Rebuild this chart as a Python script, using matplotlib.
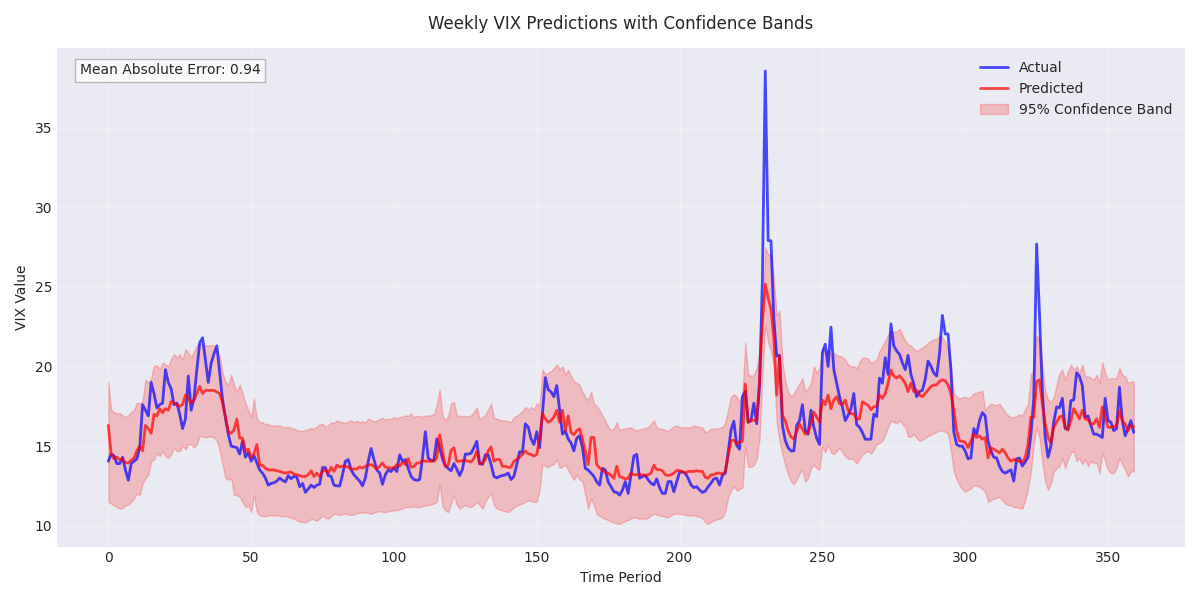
import numpy as np
import matplotlib
matplotlib.use("Agg")
import matplotlib.pyplot as plt

# --- values (one per time period, 0..359) ---
actual = [
    14.05, 14.5, 14.4, 13.9, 13.9, 14.3, 13.5, 12.85, 13.9, 14.05,
    14.2, 14.9, 17.6, 17.25, 16.9, 19.0, 18.3, 17.4, 17.6, 17.7,
    19.8, 19.0, 18.6, 17.6, 17.7, 17.0, 16.1, 16.7, 19.4, 17.25,
    18.0, 19.8, 21.5, 21.8, 20.4, 19.0, 20.2, 20.8, 21.3, 19.6,
    17.9, 16.8, 15.75, 15.0, 14.95, 14.9, 14.5, 15.3, 14.3, 14.6,
    14.05, 14.4, 13.95, 13.5, 13.3, 13.0, 12.55, 12.65, 12.7, 12.8,
    13.0, 12.85, 12.75, 13.15, 12.95, 13.1, 13.05, 12.45, 12.65, 12.1,
    12.3, 12.55, 12.4, 12.55, 12.6, 13.65, 13.65, 13.15, 13.1, 12.55,
    12.5, 12.5, 13.2, 14.05, 14.15, 13.5, 13.2, 13.0, 12.8, 12.5,
    13.0, 14.05, 14.85, 14.15, 13.5, 13.3, 12.6, 13.2, 13.5, 13.4,
    13.65, 13.4, 14.45, 14.05, 14.15, 13.6, 13.1, 12.9, 12.85, 12.9,
    14.25, 15.9, 14.25, 14.1, 14.1, 15.45, 14.9, 14.2, 13.75, 13.6,
    13.45, 13.9, 13.55, 13.15, 13.55, 14.5, 14.5, 14.55, 14.9, 15.3,
    13.9, 13.85, 14.45, 14.45, 13.85, 13.1, 13.0, 13.1, 13.15, 13.2,
    13.3, 12.9, 13.1, 13.85, 14.65, 14.6, 16.4, 16.2, 15.45, 15.1,
    15.9, 14.9, 17.05, 19.3, 18.55, 18.4, 18.1, 18.8, 17.25, 15.75,
    15.95, 15.45, 15.2, 14.7, 15.5, 15.65, 14.9, 13.6, 13.5, 13.3,
    13.1, 12.75, 12.55, 13.6, 13.5, 12.75, 12.45, 12.13, 12.09, 11.92,
    12.24, 12.77, 12.03, 13.2, 14.37, 14.48, 12.98, 13.09, 13.16, 12.88,
    12.67, 12.56, 12.94, 12.39, 12.03, 12.03, 12.77, 12.77, 12.13, 12.77,
    13.37, 13.37, 13.3, 12.98, 12.56, 12.39, 12.45, 12.24, 12.09, 12.17,
    12.45, 12.67, 12.94, 12.98, 12.56, 13.16, 13.3, 14.6, 16.0, 16.56,
    15.05, 14.8, 18.1, 18.45, 16.5, 16.6, 17.7, 16.4, 18.8, 25.5,
    38.55, 27.9, 27.9, 23.0, 20.65, 20.7, 16.3, 15.35, 14.9, 14.7,
    14.7, 16.3, 16.6, 17.6, 16.0, 15.75, 17.25, 16.2, 15.5, 15.1,
    20.87, 21.4, 20.0, 22.47, 19.8, 18.95, 18.1, 17.46, 16.6, 16.93,
    17.35, 18.3, 16.35, 16.18, 15.86, 15.43, 15.43, 15.43, 17.0, 16.85,
    19.27, 18.95, 20.55, 19.5, 22.68, 21.3, 20.98, 20.76, 20.23, 19.8,
    20.7, 19.5, 18.9, 18.1, 18.42, 18.5, 19.2, 20.34, 20.02, 19.59,
    19.4, 20.8, 23.21, 22.04, 22.04, 19.8, 15.9, 15.1, 15.0, 15.0,
    14.69, 14.2, 14.26, 16.1, 15.75, 16.6, 17.1, 16.9, 15.3, 14.7,
    14.3, 14.26, 13.73, 13.41, 13.3, 13.41, 13.5, 12.8, 14.2, 14.25,
    13.75, 14.0, 14.3, 15.7, 18.0, 27.69, 23.3, 18.5, 15.54, 14.3,
    15.0, 16.5, 17.46, 17.4, 18.0, 16.1, 16.07, 17.85, 17.9, 19.6,
    19.38, 18.8, 16.82, 16.9, 16.3, 15.75, 15.75, 15.65, 15.54, 18.0,
    16.61, 16.5, 15.97, 16.1, 18.7, 16.6, 15.65, 16.1, 16.6, 15.86,
]

predicted = [
    16.3, 14.5, 14.2, 14.3, 14.15, 14.2, 13.95, 13.95, 14.1, 14.25,
    14.7, 15.0, 14.7, 16.3, 16.1, 15.8, 17.0, 16.9, 17.35, 17.1,
    17.35, 17.25, 17.8, 17.7, 17.6, 17.5, 17.6, 18.2, 18.0, 17.7,
    17.9, 18.3, 18.75, 18.3, 18.5, 18.5, 18.5, 18.5, 18.4, 18.3,
    17.7, 16.8, 15.9, 15.8, 16.0, 16.7, 15.5, 15.5, 14.7, 14.8,
    14.3, 14.5, 15.1, 13.8, 13.8, 13.6, 13.5, 13.5, 13.5, 13.45,
    13.41, 13.35, 13.3, 13.35, 13.37, 13.24, 13.2, 13.15, 13.09, 13.09,
    13.2, 13.45, 13.09, 13.3, 13.09, 13.41, 13.52, 13.3, 13.67, 13.41,
    13.8, 13.69, 13.73, 13.73, 13.67, 13.56, 13.56, 13.56, 13.69, 13.62,
    13.73, 13.8, 13.84, 13.73, 13.56, 13.73, 13.94, 13.67, 13.65, 13.62,
    13.62, 13.84, 13.73, 14.0, 13.84, 14.22, 13.67, 13.73, 13.94, 13.94,
    14.09, 14.05, 14.05, 14.05, 14.05, 14.26, 15.71, 14.69, 13.73, 13.8,
    14.73, 14.9, 14.05, 14.05, 14.09, 14.09, 14.05, 14.0, 14.22, 14.69,
    13.88, 13.94, 14.16, 14.69, 14.95, 14.05, 14.16, 14.16, 13.73, 13.73,
    13.67, 13.67, 14.05, 14.16, 14.3, 14.48, 14.69, 14.52, 14.48, 14.37,
    14.48, 15.54, 17.04, 16.72, 16.5, 16.61, 16.82, 17.25, 16.5, 17.25,
    15.97, 16.9, 15.86, 15.71, 15.97, 16.08, 15.44, 14.69, 13.84, 15.54,
    15.54, 13.84, 13.62, 13.5, 13.35, 13.3, 13.16, 12.98, 13.73, 13.09,
    13.03, 12.94, 12.98, 13.3, 13.2, 13.2, 13.2, 13.2, 13.16, 13.2,
    13.3, 13.8, 13.52, 13.52, 13.45, 13.2, 13.16, 13.2, 13.3, 13.48,
    13.45, 13.41, 13.3, 13.41, 13.41, 13.41, 13.45, 13.41, 13.41, 13.03,
    12.98, 13.2, 13.2, 13.3, 13.3, 13.24, 13.4, 14.37, 15.33, 15.37,
    15.12, 15.29, 15.3, 18.9, 16.5, 16.65, 16.61, 16.6, 19.2, 22.8,
    25.17, 24.3, 23.6, 21.8, 18.2, 20.66, 16.95, 16.6, 15.97, 15.58,
    15.43, 15.9, 16.39, 16.07, 15.75, 15.86, 16.39, 17.14, 16.82, 16.5,
    17.89, 17.6, 18.2, 17.35, 17.89, 18.1, 17.67, 17.6, 17.89, 17.25,
    17.03, 17.03, 16.71, 16.71, 17.78, 17.67, 17.57, 17.29, 17.46, 17.5,
    18.21, 17.99, 18.31, 18.95, 19.76, 19.4, 19.27, 19.42, 19.2, 18.95,
    18.42, 18.95, 18.42, 18.5, 18.21, 18.1, 18.31, 18.53, 18.74, 18.84,
    18.84, 19.06, 19.16, 19.1, 18.84, 18.31, 17.25, 15.97, 15.33, 15.3,
    15.22, 14.9, 15.33, 15.75, 15.54, 15.65, 15.43, 15.54, 14.26, 14.9,
    14.8, 14.69, 14.58, 14.8, 14.58, 14.26, 14.05, 14.16, 14.1, 14.05,
    14.0, 14.26, 15.12, 16.82, 16.82, 19.06, 19.16, 17.67, 16.39, 15.54,
    15.2, 16.18, 16.5, 16.82, 16.9, 16.18, 16.01, 16.61, 17.35, 17.03,
    16.71, 17.25, 16.71, 16.65, 16.39, 16.4, 16.71, 16.18, 17.46, 16.82,
    16.18, 16.18, 16.22, 16.29, 17.25, 16.61, 16.39, 15.97, 16.29, 16.22,
]

band_upper = [
    19.06, 17.25, 17.14, 17.04, 17.08, 16.93, 16.82, 16.93, 17.14, 17.25,
    17.72, 17.68, 17.85, 19.17, 18.96, 19.27, 20.06, 20.06, 19.85, 20.23,
    20.13, 20.02, 20.49, 20.77, 20.55, 20.77, 20.45, 21.09, 20.87, 20.55,
    20.98, 21.3, 21.51, 21.3, 21.34, 21.3, 21.36, 21.3, 21.09, 20.66,
    19.59, 19.06, 18.85, 19.49, 18.85, 18.42, 18.85, 18.32, 17.68, 17.25,
    16.82, 18.0, 16.72, 16.5, 16.5, 16.35, 16.4, 16.29, 16.29, 16.29,
    16.3, 16.2, 16.18, 16.2, 16.14, 16.1, 16.0, 15.97, 15.97, 16.01,
    16.05, 16.14, 16.1, 16.23, 16.35, 16.4, 16.23, 16.3, 16.5, 16.45,
    16.61, 16.55, 16.5, 16.44, 16.55, 16.61, 16.5, 16.57, 16.5, 16.55,
    16.5, 16.72, 16.65, 16.55, 16.61, 16.7, 16.78, 16.65, 16.72, 16.7,
    16.82, 16.75, 16.82, 16.85, 16.93, 16.9, 17.04, 16.82, 16.9, 16.87,
    16.85, 16.93, 16.9, 16.95, 16.99, 17.6, 18.57, 16.9, 16.61, 16.9,
    17.68, 17.78, 16.93, 16.9, 16.87, 16.9, 16.85, 16.93, 17.14, 17.42,
    16.7, 16.82, 16.95, 17.3, 17.68, 16.8, 16.72, 16.65, 16.61, 16.6,
    16.57, 16.5, 16.82, 16.9, 17.04, 17.2, 17.46, 17.3, 17.46, 17.3,
    17.68, 17.57, 19.81, 19.5, 19.59, 19.7, 19.9, 20.13, 19.81, 20.02,
    19.49, 19.81, 19.4, 19.1, 18.96, 18.85, 18.4, 18.1, 17.89, 18.42,
    17.68, 17.5, 17.25, 16.9, 16.6, 16.2, 16.0, 16.1, 16.5, 16.0,
    16.08, 16.1, 16.15, 16.18, 16.05, 15.97, 16.05, 16.08, 16.15, 16.18,
    16.4, 16.61, 16.18, 16.1, 16.08, 16.0, 15.97, 16.1, 16.25, 16.29,
    16.2, 16.18, 16.18, 16.18, 16.2, 16.29, 16.25, 16.2, 16.18, 15.86,
    15.95, 16.08, 16.1, 16.1, 16.14, 16.2, 16.5, 17.3, 18.1, 18.25,
    18.1, 17.8, 18.3, 21.5, 19.48, 19.42, 19.45, 19.9, 21.0, 23.0,
    27.48, 27.05, 27.0, 25.56, 23.21, 23.5, 20.3, 19.1, 18.4, 18.1,
    18.31, 18.63, 18.95, 19.27, 18.42, 18.63, 18.95, 20.02, 19.59, 19.9,
    21.19, 20.76, 21.08, 20.66, 20.87, 20.7, 20.66, 20.6, 20.44, 20.12,
    20.0, 20.02, 19.9, 20.3, 20.55, 20.55, 20.5, 20.23, 20.3, 20.44,
    20.98, 21.3, 21.62, 22.0, 22.25, 22.15, 22.2, 22.36, 22.0, 21.62,
    21.4, 21.3, 21.1, 20.98, 21.08, 21.2, 21.3, 21.5, 21.62, 21.7,
    21.72, 21.94, 21.83, 21.5, 21.08, 20.02, 18.31, 18.1, 17.99, 18.05,
    18.1, 17.99, 18.1, 18.31, 18.35, 18.42, 18.48, 17.25, 17.5, 17.67,
    17.6, 17.57, 17.67, 17.4, 17.14, 16.93, 16.82, 16.82, 16.9, 16.99,
    16.93, 17.3, 17.67, 19.59, 19.59, 21.94, 21.72, 20.0, 18.5, 17.9,
    17.78, 18.1, 18.84, 19.59, 19.8, 19.16, 19.7, 20.12, 19.8, 20.02,
    19.59, 20.12, 19.38, 19.38, 19.3, 19.16, 19.48, 18.95, 20.27, 19.59,
    19.16, 19.27, 19.27, 19.27, 19.91, 19.48, 19.38, 18.95, 19.06, 19.06,
]

band_lower = [
    11.49, 11.39, 11.28, 11.17, 11.07, 11.11, 11.28, 11.32, 11.49, 11.71,
    12.03, 11.92, 12.67, 12.99, 13.2, 14.05, 14.16, 14.58, 14.37, 14.69,
    14.37, 14.26, 14.48, 14.9, 14.69, 14.69, 15.01, 14.8, 15.12, 15.12,
    14.9, 15.12, 15.65, 15.59, 15.54, 15.59, 15.59, 15.54, 15.33, 14.69,
    13.84, 12.99, 12.88, 12.99, 11.92, 11.92, 11.81, 11.49, 11.17, 11.28,
    10.85, 11.92, 10.85, 10.64, 10.6, 10.6, 10.64, 10.64, 10.64, 10.65,
    10.62, 10.58, 10.6, 10.55, 10.5, 10.43, 10.35, 10.26, 10.23, 10.21,
    10.3, 10.43, 10.38, 10.32, 10.45, 10.64, 10.5, 10.43, 10.6, 10.75,
    10.7, 10.68, 10.72, 10.75, 10.7, 10.68, 10.72, 10.78, 10.81, 10.83,
    10.85, 10.8, 10.75, 10.82, 10.88, 10.9, 10.87, 10.85, 10.9, 10.93,
    10.96, 10.98, 11.02, 11.1, 11.17, 11.17, 11.17, 11.2, 11.17, 11.17,
    11.22, 11.28, 11.3, 11.35, 11.39, 11.5, 12.6, 11.2, 10.95, 10.85,
    11.4, 11.92, 11.3, 11.07, 11.2, 11.28, 11.22, 11.17, 11.3, 11.49,
    11.3, 11.07, 11.5, 11.8, 12.03, 11.3, 11.07, 11.0, 10.96, 10.9,
    10.85, 11.0, 11.17, 11.25, 11.35, 11.39, 11.5, 11.6, 11.55, 11.49,
    11.5, 12.24, 13.88, 13.75, 13.67, 13.8, 13.88, 14.16, 13.62, 13.7,
    13.84, 13.5, 13.2, 12.88, 13.2, 12.9, 12.77, 11.92, 11.07, 11.71,
    11.3, 10.75, 10.6, 10.5, 10.43, 10.35, 10.25, 10.2, 10.15, 10.11,
    10.2, 10.3, 10.35, 10.45, 10.53, 10.5, 10.43, 10.45, 10.43, 10.5,
    10.65, 10.75, 10.7, 10.64, 10.6, 10.55, 10.53, 10.65, 10.75, 10.75,
    10.75, 10.72, 10.68, 10.64, 10.64, 10.64, 10.6, 10.55, 10.5, 10.2,
    10.11, 10.25, 10.32, 10.4, 10.43, 10.53, 10.9, 11.8, 12.2, 12.5,
    12.2, 12.3, 12.4, 15.0, 13.7, 13.7, 13.8, 14.2, 15.5, 19.5,
    22.6, 21.5, 21.0, 20.0, 16.5, 15.3, 14.5, 13.8, 13.2, 12.8,
    12.6, 12.9, 13.3, 13.5, 12.77, 12.98, 13.6, 13.84, 13.6, 13.52,
    15.01, 14.6, 15.1, 14.6, 14.5, 14.69, 14.9, 14.6, 14.37, 14.2,
    14.2, 14.15, 13.9, 14.2, 14.48, 14.6, 14.69, 14.52, 14.8, 15.12,
    15.2, 15.33, 15.7, 16.2, 16.61, 16.5, 16.44, 16.61, 16.4, 16.18,
    15.6, 15.6, 15.75, 15.5, 15.33, 15.4, 15.5, 15.65, 15.7, 15.8,
    15.9, 15.97, 15.97, 15.9, 15.75, 14.69, 13.41, 12.9, 12.56, 12.3,
    12.13, 12.25, 12.34, 12.56, 12.5, 12.45, 12.3, 12.13, 11.49, 11.6,
    11.71, 11.75, 11.81, 11.6, 11.39, 11.3, 11.28, 11.17, 11.15, 11.11,
    11.07, 11.6, 12.34, 13.41, 15.12, 16.18, 15.54, 14.0, 12.77, 12.24,
    12.66, 13.41, 13.6, 13.73, 14.26, 13.62, 14.2, 14.58, 14.69, 14.05,
    14.26, 13.84, 14.16, 13.73, 14.05, 13.94, 13.94, 13.3, 14.58, 14.05,
    13.5, 13.3, 13.3, 13.62, 14.26, 13.84, 13.5, 13.09, 13.41, 13.41,
]

mae_text = "Mean Absolute Error: 0.94"

plt.style.use("seaborn-v0_8-darkgrid")
plt.rcParams["font.family"] = ["DejaVu Sans"]

t = np.arange(len(actual))

fig, ax = plt.subplots(figsize=(12, 6), dpi=100)

ax.plot(t, actual, color="blue", alpha=0.7, linewidth=2, label="Actual")
ax.plot(t, predicted, color="red", alpha=0.7, linewidth=2, label="Predicted")
ax.fill_between(t, band_lower, band_upper, color="red", alpha=0.2,
                label="95% Confidence Band")

ax.set_title("Weekly VIX Predictions with Confidence Bands", fontsize=12, pad=14)
ax.set_xlabel("Time Period")
ax.set_ylabel("VIX Value")
ax.legend(loc="upper right")
ax.grid(True, alpha=0.3)

ax.text(0.02, 0.97, mae_text, transform=ax.transAxes, va="top", fontsize=10,
        bbox=dict(boxstyle="square", facecolor="white", edgecolor="#aaaaaa",
                  alpha=0.8))

plt.tight_layout()
plt.savefig("out.png")
